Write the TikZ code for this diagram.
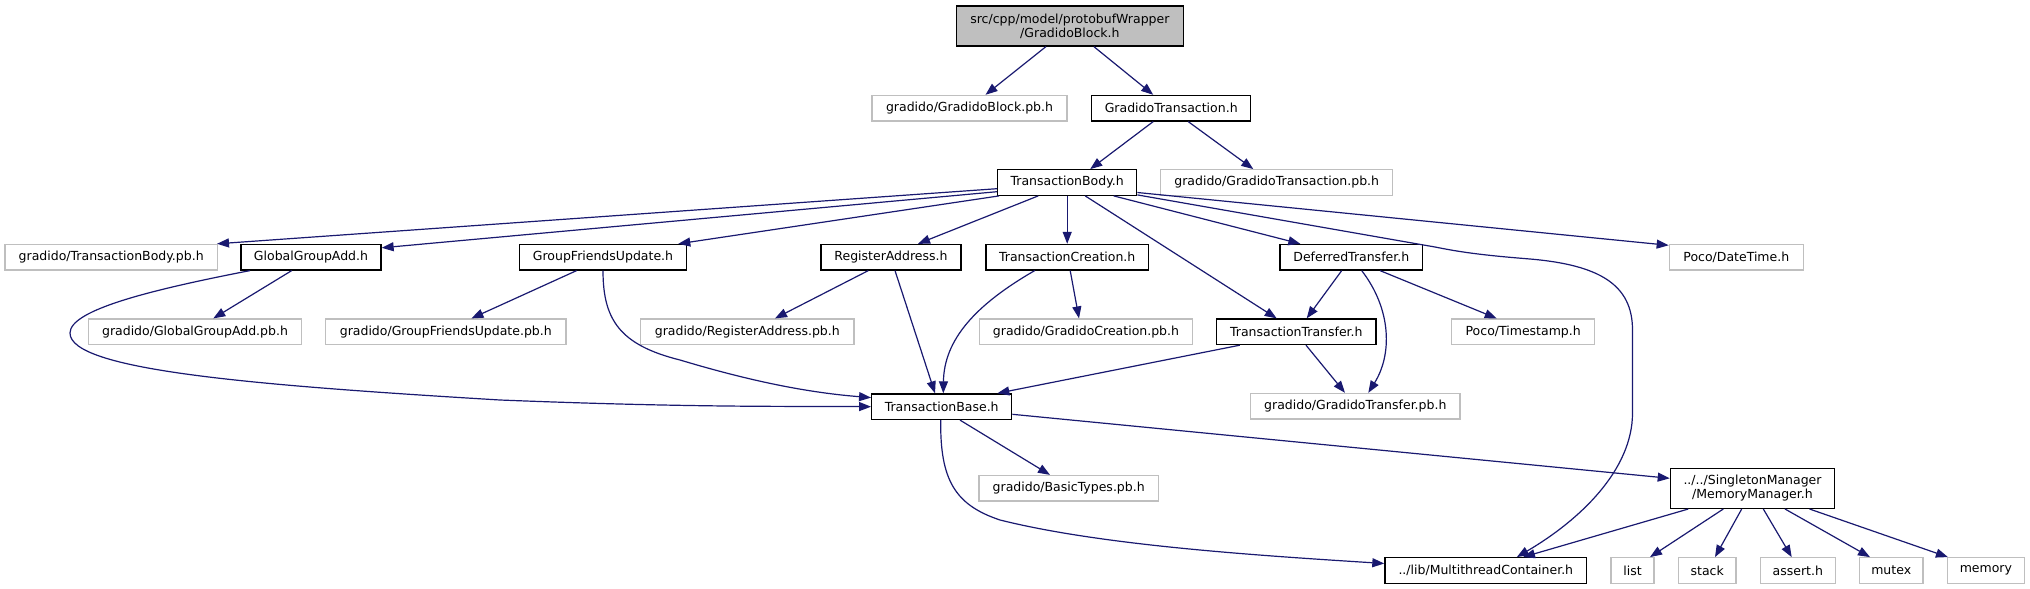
\documentclass[tikz,border=0pt]{standalone}
\usepackage{fontspec}
\setmainfont{DejaVu Sans}
\usetikzlibrary{arrows.meta,calc}
\definecolor{edgeblue}{HTML}{191970}
\definecolor{greyseventyfive}{HTML}{BFBFBF}
\begin{document}
\begin{tikzpicture}[x=1pt,y=-1pt,
  every node/.style={font=\fontsize{12.5}{14}\selectfont, inner sep=0pt, align=center},
  box/.style={draw=black, line width=1.3pt, fill=white, minimum height=25.5pt},
  gbox/.style={draw=greyseventyfive, line width=1.3pt, fill=white, minimum height=25.5pt},
  topbox/.style={draw=black, line width=1.3pt, fill=greyseventyfive},
  edge/.style={draw=edgeblue, line width=1.2pt, -{Triangle[length=12pt,width=9pt]}}]
\useasboundingbox[fill=white] (0,0) rectangle (2030,589);

% nodes
\node[topbox, minimum width=227pt, minimum height=40pt] (top) at (1069.9,26) {src/cpp/model/protobufWrapper\\/GradidoBlock.h};
\node[gbox, minimum width=195pt] (gbpb) at (969.5,108.2) {gradido/GradidoBlock.pb.h};
\node[box, minimum width=159pt] (gt) at (1171.2,108.2) {GradidoTransaction.h};
\node[box, minimum width=139pt] (tb) at (1067.2,182.5) {TransactionBody.h};
\node[gbox, minimum width=232pt] (gtpb) at (1276.7,182.5) {gradido/GradidoTransaction.pb.h};

\node[gbox, minimum width=212.3pt] (tbpb) at (111.2,257.2) {gradido/TransactionBody.pb.h};
\node[box, minimum width=140pt] (gga) at (311,257.2) {GlobalGroupAdd.h};
\node[box, minimum width=167.3pt] (gfu) at (603,257.2) {GroupFriendsUpdate.h};
\node[box, minimum width=140pt] (ra) at (891,257.2) {RegisterAddress.h};
\node[box, minimum width=162.5pt] (tc) at (1067.2,257.2) {TransactionCreation.h};
\node[box, minimum width=142.7pt] (dt) at (1351.3,257.2) {DeferredTransfer.h};
\node[gbox, minimum width=134pt] (pdt) at (1736.3,257.2) {Poco/DateTime.h};

\node[gbox, minimum width=213.3pt] (ggapb) at (195,331.8) {gradido/GlobalGroupAdd.pb.h};
\node[gbox, minimum width=240.3pt] (gfupb) at (445.8,331.8) {gradido/GroupFriendsUpdate.pb.h};
\node[gbox, minimum width=213.3pt] (rapb) at (747.3,331.8) {gradido/RegisterAddress.pb.h};
\node[gbox, minimum width=213.3pt] (gcpb) at (1086,331.8) {gradido/GradidoCreation.pb.h};
\node[box, minimum width=159.3pt] (tt) at (1296.3,331.8) {TransactionTransfer.h};
\node[gbox, minimum width=143pt] (pts) at (1523.2,331.8) {Poco/Timestamp.h};

\node[box, minimum width=140pt] (tbase) at (941.7,406.7) {TransactionBase.h};
\node[gbox, minimum width=209.3pt] (gtrpb) at (1355.3,406.2) {gradido/GradidoTransfer.pb.h};

\node[gbox, minimum width=179.3pt] (btpb) at (1068.7,488.3) {gradido/BasicTypes.pb.h};
\node[box, minimum width=164.3pt, minimum height=39.7pt] (mm) at (1752.5,488.5) {../../SingletonManager\\/MemoryManager.h};

\node[box, minimum width=201.7pt] (mtc) at (1485.8,570.5) {../lib/MultithreadContainer.h};
\node[gbox, minimum width=43pt] (list) at (1632.5,570.5) {list};
\node[gbox, minimum width=57.7pt] (stack) at (1707.2,570.5) {stack};
\node[gbox, minimum width=75pt] (assert) at (1797.8,570.5) {assert.h};
\node[gbox, minimum width=63.7pt] (mutex) at (1891.2,570.5) {mutex};
\node[gbox, minimum width=77pt] (memory) at (1985.9,570.5) {memory};

% edges
\draw[edge] ($(top.south)+(-24,0)$) -- ($(gbpb.north)+(16,0)$);
\draw[edge] ($(top.south)+(24,0)$) -- ($(gt.north)+(-18,0)$);
\draw[edge] ($(gt.south)+(-18,0)$) -- ($(tb.north)+(23,0)$);
\draw[edge] ($(gt.south)+(17,0)$) -- ($(gtpb.north)+(-23.4,0)$);

\draw[edge] ($(tb.west)+(0,6.2)$) -- ($(tbpb.north east)+(-1,0)$);
\draw[edge] ($(tb.west)+(0,9.2)$) -- ($(gga.north east)+(0,4)$);
\draw[edge] ($(tb.south west)+(2,0)$) -- ($(gfu.north)+(75.3,0)$);
\draw[edge] ($(tb.south)+(-29,0)$) -- ($(ra.north)+(27,0)$);
\draw[edge] (tb.south) -- (tc.north);
\draw[edge] ($(tb.south)+(18,0)$) -- ($(tt.north)+(-19.6,0)$);
\draw[edge] ($(tb.south)+(46.5,0)$) -- ($(dt.north)+(-51,0)$);
\draw[edge] ($(tb.south east)+(0,-1)$) -- (1435,247)
  .. controls (1460,252) and (1480,255) .. (1530,259)
  .. controls (1600,265) and (1632.5,285) .. (1632.5,330)
  -- (1632.5,413)
  .. controls (1632.5,470) and (1580,520) .. ($(mtc.north)+(31,0)$);
\draw[edge] ($(tb.east)+(0,10)$) -- ($(pdt.north west)+(0,1.5)$);

\draw[edge] ($(gga.south)+(-19.3,0)$) -- ($(ggapb.north)+(18.3,0)$);
\draw[edge] ($(gga.south)+(-61,0)$)
  .. controls (150,290) and (70,310) .. (70,333)
  .. controls (70,370) and (250,385) .. (500,400)
  .. controls (700,408) and (800,406) .. (tbase.west);

\draw[edge] ($(gfu.south)+(-26.4,0)$) -- ($(gfupb.north)+(25.6,0)$);
\draw[edge] (gfu.south)
  .. controls (603,320) and (620,345) .. (680,360)
  .. controls (740,378) and (800,392) .. ($(tbase.north west)+(0,4.3)$);

\draw[edge] ($(ra.south)+(-22.7,0)$) -- ($(rapb.north)+(27.7,0)$);
\draw[edge] ($(ra.south)+(4,0)$) -- ($(tbase.north)+(-6.7,0)$);

\draw[edge] ($(tc.south)+(3,0)$) -- ($(gcpb.north)+(-7,0)$);
\draw[edge] ($(tc.south)+(-32.5,0)$)
  .. controls (975,305) and (944,340) .. ($(tbase.north)+(1.6,0)$);

\draw[edge] ($(dt.south)+(-9.6,0)$) -- ($(tt.north)+(10.4,0)$);
\draw[edge] ($(dt.south)+(10.4,0)$)
  .. controls (1392,310) and (1392,355) .. ($(gtrpb.north)+(13,0)$);
\draw[edge] ($(dt.south)+(28.7,0)$) -- ($(pts.north)+(-26.5,0)$);

\draw[edge] ($(tt.south)+(-56.5,0)$) -- ($(tbase.north east)+(-15,0)$);
\draw[edge] ($(tt.south)+(9.7,0)$) -- ($(gtrpb.north)+(-10.3,0)$);

\draw[edge] ($(tbase.east)+(0,7.6)$) -- ($(mm.west)+(0,-10.2)$);
\draw[edge] ($(tbase.south)+(18.3,0)$) -- ($(btpb.north)+(-18.7,0)$);
\draw[edge] ($(tbase.south)+(-1,0)$)
  .. controls (940,480) and (955,505) .. (1000,520)
  .. controls (1100,545) and (1250,555) .. ($(mtc.west)+(0,-7)$);

\draw[edge] ($(mm.south)+(-64.2,0)$) -- ($(mtc.north)+(37.2,0)$);
\draw[edge] ($(mm.south)+(-29.2,0)$) -- ($(list.north)+(17.5,0)$);
\draw[edge] ($(mm.south)+(-10.8,0)$) -- ($(stack.north)+(7.8,0)$);
\draw[edge] ($(mm.south)+(10.8,0)$) -- ($(assert.north)+(-6.1,0)$);
\draw[edge] ($(mm.south)+(32.5,0)$) -- ($(mutex.north)+(-21.2,0)$);
\draw[edge] ($(mm.south)+(57,0)$) -- ($(memory.north)+(-38,0)$);
\end{tikzpicture}
\end{document}
